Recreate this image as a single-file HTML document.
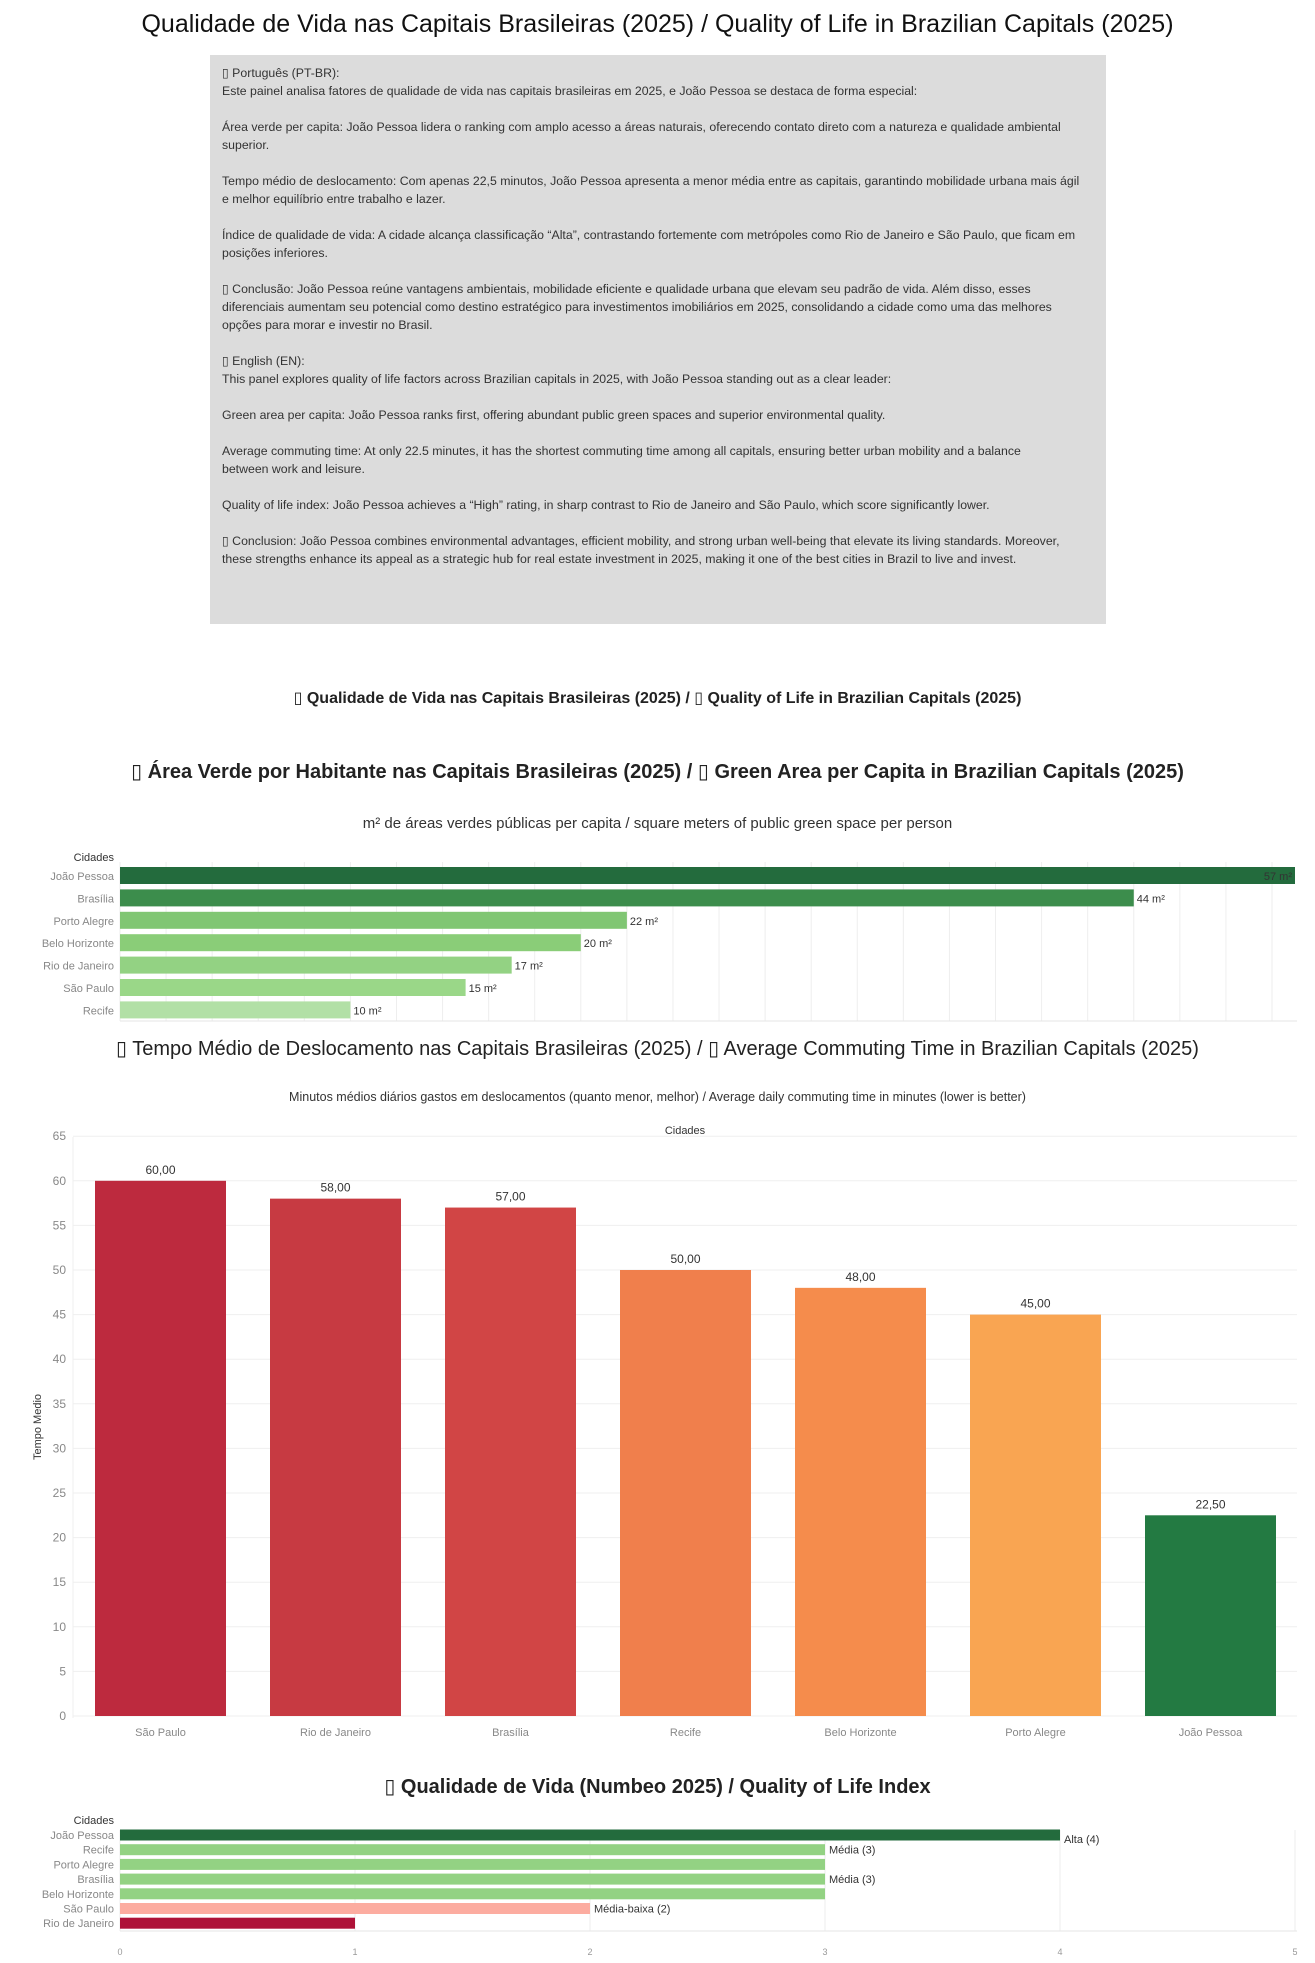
<!DOCTYPE html>
<html><head><meta charset="utf-8">
<style>
body{margin:0;width:1315px;height:1963px;background:#fff;font-family:"Liberation Sans","DejaVu Sans",sans-serif;position:relative;overflow:hidden;color:#222}
.abs{position:absolute}
.ctr{left:0;width:1315px;text-align:center;white-space:nowrap}
#box{left:210px;top:55px;width:896px;height:569px;background:#dcdcdc}
#box .t{position:absolute;left:12px;font-size:12.3px;color:#333;white-space:nowrap;line-height:18px}
svg text{font-family:"Liberation Sans","DejaVu Sans",sans-serif}
</style></head><body>
<div class="abs ctr" style="top:10px;font-size:25px;color:#111">Qualidade de Vida nas Capitais Brasileiras (2025) / Quality of Life in Brazilian Capitals (2025)</div>
<div id="box" class="abs">
<div class="t" style="top:9px">▯ Português (PT-BR):<br>Este painel analisa fatores de qualidade de vida nas capitais brasileiras em 2025, e João Pessoa se destaca de forma especial:<br><br>Área verde per capita: João Pessoa lidera o ranking com amplo acesso a áreas naturais, oferecendo contato direto com a natureza e qualidade ambiental<br>superior.<br><br>Tempo médio de deslocamento: Com apenas 22,5 minutos, João Pessoa apresenta a menor média entre as capitais, garantindo mobilidade urbana mais ágil<br>e melhor equilíbrio entre trabalho e lazer.<br><br>Índice de qualidade de vida: A cidade alcança classificação “Alta”, contrastando fortemente com metrópoles como Rio de Janeiro e São Paulo, que ficam em<br>posições inferiores.<br><br>▯ Conclusão: João Pessoa reúne vantagens ambientais, mobilidade eficiente e qualidade urbana que elevam seu padrão de vida. Além disso, esses<br>diferenciais aumentam seu potencial como destino estratégico para investimentos imobiliários em 2025, consolidando a cidade como uma das melhores<br>opções para morar e investir no Brasil.<br><br>▯ English (EN):<br>This panel explores quality of life factors across Brazilian capitals in 2025, with João Pessoa standing out as a clear leader:<br><br>Green area per capita: João Pessoa ranks first, offering abundant public green spaces and superior environmental quality.<br><br>Average commuting time: At only 22.5 minutes, it has the shortest commuting time among all capitals, ensuring better urban mobility and a balance<br>between work and leisure.<br><br>Quality of life index: João Pessoa achieves a “High” rating, in sharp contrast to Rio de Janeiro and São Paulo, which score significantly lower.<br><br>▯ Conclusion: João Pessoa combines environmental advantages, efficient mobility, and strong urban well-being that elevate its living standards. Moreover,<br>these strengths enhance its appeal as a strategic hub for real estate investment in 2025, making it one of the best cities in Brazil to live and invest.</div>
</div>
<div class="abs ctr" style="top:688px;font-size:16px;font-weight:bold">▯ Qualidade de Vida nas Capitais Brasileiras (2025) / ▯ Quality of Life in Brazilian Capitals (2025)</div>
<div class="abs ctr" style="top:759px;font-size:20px;font-weight:bold">▯ Área Verde por Habitante nas Capitais Brasileiras (2025) / ▯ Green Area per Capita in Brazilian Capitals (2025)</div>
<div class="abs ctr" style="top:815px;font-size:15px;color:#333">m² de áreas verdes públicas per capita / square meters of public green space per person</div>
<div class="abs ctr" style="top:1036px;font-size:20px">▯ Tempo Médio de Deslocamento nas Capitais Brasileiras (2025) / ▯ Average Commuting Time in Brazilian Capitals (2025)</div>
<div class="abs ctr" style="top:1090px;font-size:12.5px;color:#333">Minutos médios diários gastos em deslocamentos (quanto menor, melhor) / Average daily commuting time in minutes (lower is better)</div>
<div class="abs ctr" style="top:1774px;font-size:20px;font-weight:bold">▯ Qualidade de Vida (Numbeo 2025) / Quality of Life Index</div>
<svg id="svg" class="abs" style="left:0;top:0" width="1315" height="1963"></svg>
<script>
// Chart 1: green area
const greenCities=["João Pessoa","Brasília","Porto Alegre","Belo Horizonte","Rio de Janeiro","São Paulo","Recife"];
const greenValues=[57,44,22,20,17,15,10];
const greenColors=["#236b3d","#3c8d4c","#80c673","#8acd78","#93d283","#9ad788","#b2e0a6"];
// Chart 2: commute
const commuteCities=["São Paulo","Rio de Janeiro","Brasília","Recife","Belo Horizonte","Porto Alegre","João Pessoa"];
const commuteValues=[60,58,57,50,48,45,22.5];
const commuteLabels=["60,00","58,00","57,00","50,00","48,00","45,00","22,50"];
const commuteColors=["#bd2a3e","#c73a42","#d14545","#f07f4c","#f58c4c","#f9a552","#237a42"];
const commuteTicks=[0,5,10,15,20,25,30,35,40,45,50,55,60,65];
// Chart 3: quality index
const qolCities=["João Pessoa","Recife","Porto Alegre","Brasília","Belo Horizonte","São Paulo","Rio de Janeiro"];
const qolValues=[4,3,3,3,3,2,1];
const qolLabels=["Alta (4)","Média (3)","","Média (3)","","Média-baixa (2)",""];
const qolColors=["#236b3d","#93d283","#93d283","#93d283","#93d283","#fcaca0","#ae1238"];
const qolTicks=[0,1,2,3,4,5];

const svg=document.getElementById('svg');
const NS="http://www.w3.org/2000/svg";
function mk(tag,at,txt){const e=document.createElementNS(NS,tag);for(const k in at)e.setAttribute(k,at[k]);if(txt!==undefined)e.textContent=txt;svg.appendChild(e);return e;}

// ---- Chart 1
const X1END=1295;
const x1=v=>Math.min(X1END,120+v*23.04);
const y1=i=>867+i*22.4;
for(let gv=0;120+gv*23.04<=X1END+1;gv+=2){const g=mk('line',{x1:120+gv*23.04,x2:120+gv*23.04,y1:862,y2:1021,stroke:'#eeeeee'});

}
let t=mk('text',{x:114,y:861,'text-anchor':'end','font-size':11,fill:'#333'},'Cidades');


greenCities.forEach((c,i)=>{
 const r=mk('rect',{x:120,y:y1(i),width:x1(greenValues[i])-120,height:17,fill:greenColors[i]});
 
 
 const l=mk('text',{x:114,y:y1(i)+13,'text-anchor':'end','font-size':11,fill:'#888'},c);
 
 
 const inside=x1(greenValues[i])>X1END-40;
 const v=mk('text',{x:inside?x1(greenValues[i])-3:x1(greenValues[i])+3,y:y1(i)+13,'text-anchor':inside?'end':'start','font-size':11,fill:'#333'},greenValues[i]+' m²');
 
 
});
let ax=mk('line',{x1:120,x2:1297,y1:1021,y2:1021,stroke:'#e5e5e5'});



// ---- Chart 2
const y2=v=>1716-v*8.92;
const bx=i=>95+i*175;
t=mk('text',{x:685,y:1134,'text-anchor':'middle','font-size':11,fill:'#333'},'Cidades');


commuteTicks.forEach(v=>{
 const g=mk('line',{x1:73,x2:1297,y1:y2(v),y2:y2(v),stroke:'#efefef'});
 
 
 const tl=mk('text',{x:66,y:y2(v)+4,'text-anchor':'end','font-size':12,fill:'#888'},v);
 
 
});
let yl=mk('line',{x1:73,x2:73,y1:1137,y2:1718,stroke:'#efefef'});


t=mk('text',{x:0,y:0,'text-anchor':'middle','font-size':11,fill:'#333',transform:'translate(41,1427) rotate(-90)'},'Tempo Medio');


commuteCities.forEach((c,i)=>{
 const r=mk('rect',{x:bx(i),y:y2(commuteValues[i]),width:131,height:y2(0)-y2(commuteValues[i]),fill:commuteColors[i]});
 
 
 const v=mk('text',{x:bx(i)+65.5,y:y2(commuteValues[i])-7,'text-anchor':'middle','font-size':12,fill:'#333'},commuteLabels[i]);
 
 
 const l=mk('text',{x:bx(i)+65.5,y:1736,'text-anchor':'middle','font-size':11,fill:'#888'},c);
 
 
});

// ---- Chart 3
const x3=v=>120+v*235;
const y3=i=>1835+i*14.7;
qolTicks.forEach(v=>{
 const g=mk('line',{x1:x3(v),x2:x3(v),y1:1830,y2:1931,stroke:'#eeeeee'});
 
 
 const tl=mk('text',{x:x3(v),y:1955,'text-anchor':'middle','font-size':9,fill:'#999'},v);
 
 
});
t=mk('text',{x:114,y:1824,'text-anchor':'end','font-size':11,fill:'#333'},'Cidades');


qolCities.forEach((c,i)=>{
 const r=mk('rect',{x:120,y:y3(i)-5.5,width:x3(qolValues[i])-120,height:11,fill:qolColors[i]});
 
 
 const l=mk('text',{x:114,y:y3(i)+4,'text-anchor':'end','font-size':11,fill:'#888'},c);
 
 
 if(qolLabels[i]){
  const v=mk('text',{x:x3(qolValues[i])+4,y:y3(i)+(i===0?8:4),'font-size':11,fill:'#333'},qolLabels[i]);
  
  
 }
});
ax=mk('line',{x1:120,x2:1297,y1:1931,y2:1931,stroke:'#e5e5e5'});


</script>
</body></html>
